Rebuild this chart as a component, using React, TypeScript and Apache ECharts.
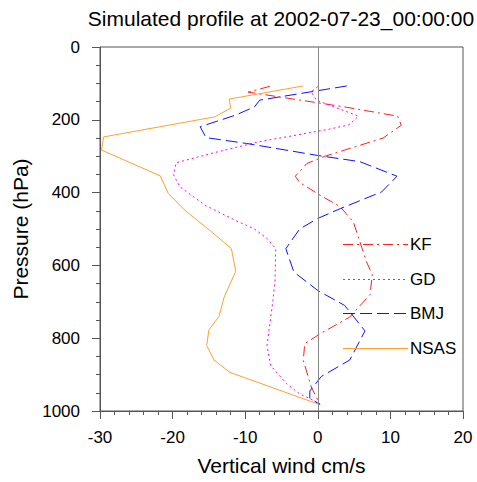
import React, { useEffect, useRef } from 'react';
import * as echarts from 'echarts';

// Vertical wind profiles (cm/s) against pressure (hPa)
const kfPressure = [108, 124, 164, 190, 215, 250, 275, 300, 320, 355, 372, 407, 439, 481, 535, 590, 625, 680, 742, 788, 815, 861, 934, 982];
const kfWind = [-6.6, -9.6, 3.5, 11.0, 11.5, 9.0, 5.0, 1.0, -1.5, -3.1, -2.5, 0.3, 3.1, 4.9, 5.8, 6.7, 7.5, 7.2, 4.4, 0.3, -1.8, -2.0, -0.9, 0.3];

const gdPressure = [109, 123, 146, 190, 214, 226, 260, 290, 318, 350, 384, 435, 476, 499, 526, 554, 645, 700, 760, 820, 875, 925, 953, 972, 982];
const gdWind = [0.0, -0.9, -0.2, 5.6, 4.3, 1.5, -8.0, -14.2, -19.5, -19.9, -19.0, -15.5, -11.4, -8.8, -7.0, -5.8, -5.9, -6.2, -6.6, -7.0, -6.5, -4.3, -2.5, -0.5, 0.3];

const bmjPressure = [107, 146, 164, 187, 219, 249, 265, 298, 315, 355, 398, 444, 471, 500, 554, 618, 669, 710, 780, 860, 905, 945, 965, 982];
const bmjWind = [4.0, -8.0, -8.7, -11.3, -16.2, -15.4, -9.8, 0.0, 5.8, 10.9, 8.8, 3.1, 0.0, -2.5, -4.4, -3.3, 0.0, 3.7, 6.5, 4.4, 0.5, -1.1, -1.1, 0.3];

const nsasPressure = [107, 143, 168, 192, 247, 283, 354, 402, 447, 505, 554, 616, 687, 740, 777, 820, 860, 894, 982];
const nsasWind = [-2.0, -12.2, -12.0, -14.2, -29.5, -29.8, -21.7, -20.6, -18.4, -14.8, -11.9, -11.3, -12.9, -13.6, -15.0, -15.3, -14.3, -12.1, 0.2];

const seriesNames = ['KF', 'GD', 'BMJ', 'NSAS'];
const titleText = 'Simulated profile at 2002-07-23_00:00:00';
const xAxisName = 'Vertical wind cm/s';
const yAxisName = 'Pressure (hPa)';

export default function App() {
  const ref = useRef<HTMLDivElement>(null);
  useEffect(() => {
    const chart = echarts.init(ref.current!, null, { renderer: 'svg' });
    const font = '"Liberation Sans", Arial, Helvetica, sans-serif';
    const axisColor = '#555';
    const colors = ['#ff2020', '#ff00ff', '#1010ff', '#ffa033'];
    const dashes: any[] = [[10, 4, 2, 4], [2, 3], [12, 5], null];
    const pair = (w: number[], p: number[]) => w.map((v, i) => [v, p[i]]);
    const line = (idx: number, data: number[][]) => ({
      name: seriesNames[idx],
      type: 'line',
      data,
      symbol: 'none',
      showSymbol: false,
      lineStyle: { color: colors[idx], width: 1, type: dashes[idx] || 'solid' },
      itemStyle: { color: colors[idx] },
      z: 3,
    });
    const nsas: any = line(3, pair(nsasWind, nsasPressure));
    nsas.markLine = {
      silent: true,
      symbol: ['none', 'none'],
      label: { show: false },
      lineStyle: { color: '#888', type: 'solid', width: 1 },
      data: [{ xAxis: 0 }],
    };

    // hand-drawn legend (line samples + labels)
    const legendTop = 244;
    const legendStep = 34.7;
    const legendEls: any[] = [];
    seriesNames.forEach((n, i) => {
      const y = Math.round(legendTop + i * legendStep) + 0.5;
      const st: any = { stroke: colors[i], lineWidth: 1 };
      if (dashes[i]) st.lineDash = dashes[i];
      legendEls.push({ type: 'line', shape: { x1: 343, y1: y, x2: 408, y2: y }, style: st, z: 10 });
      legendEls.push({
        type: 'text',
        x: 410,
        y,
        style: {
          text: n,
          font: `17px ${font}`,
          fill: '#000',
          textAlign: 'left',
          textVerticalAlign: 'middle',
          align: 'left',
          verticalAlign: 'middle',
        },
        z: 10,
      });
    });

    chart.setOption({
      animation: false,
      backgroundColor: '#fff',
      grid: { left: 100, right: 14, top: 47, bottom: 71, show: true, borderColor: axisColor, borderWidth: 1 },
      graphic: [
        {
          type: 'text',
          x: 281,
          y: 18,
          style: {
            text: titleText,
            font: `21px ${font}`,
            fill: '#000',
            textAlign: 'center',
            textVerticalAlign: 'middle',
            align: 'center',
            verticalAlign: 'middle',
          },
        },
        ...legendEls,
      ],
      xAxis: {
        type: 'value',
        min: -30,
        max: 20,
        interval: 10,
        name: xAxisName,
        nameLocation: 'middle',
        nameGap: 44,
        nameTextStyle: { fontSize: 21, color: '#000', fontFamily: font },
        axisLine: { show: true, onZero: false, lineStyle: { color: axisColor, width: 1 } },
        axisTick: { show: true, length: 8, lineStyle: { color: axisColor } },
        minorTick: { show: true, splitNumber: 5, length: 4, lineStyle: { color: axisColor } },
        splitLine: { show: false },
        axisLabel: { fontSize: 17, color: '#000', fontFamily: font, margin: 18, formatter: (v: number) => String(v) },
      },
      yAxis: {
        type: 'value',
        inverse: true,
        min: 0,
        max: 1000,
        interval: 200,
        name: yAxisName,
        nameLocation: 'middle',
        nameGap: 67,
        nameTextStyle: { fontSize: 21, color: '#000', fontFamily: font },
        axisLine: { show: true, onZero: false, lineStyle: { color: axisColor, width: 1 } },
        axisTick: { show: true, length: 8, lineStyle: { color: axisColor } },
        minorTick: { show: true, splitNumber: 4, length: 4, lineStyle: { color: axisColor } },
        splitLine: { show: false },
        axisLabel: { fontSize: 17, color: '#000', fontFamily: font, margin: 20, formatter: (v: number) => String(v) },
      },
      series: [
        line(0, pair(kfWind, kfPressure)),
        line(1, pair(gdWind, gdPressure)),
        line(2, pair(bmjWind, bmjPressure)),
        nsas,
      ],
    });
    return () => chart.dispose();
  }, []);
  return <div ref={ref} style={{ position: 'fixed', left: 0, top: 0, width: 477, height: 482 }} />;
}
